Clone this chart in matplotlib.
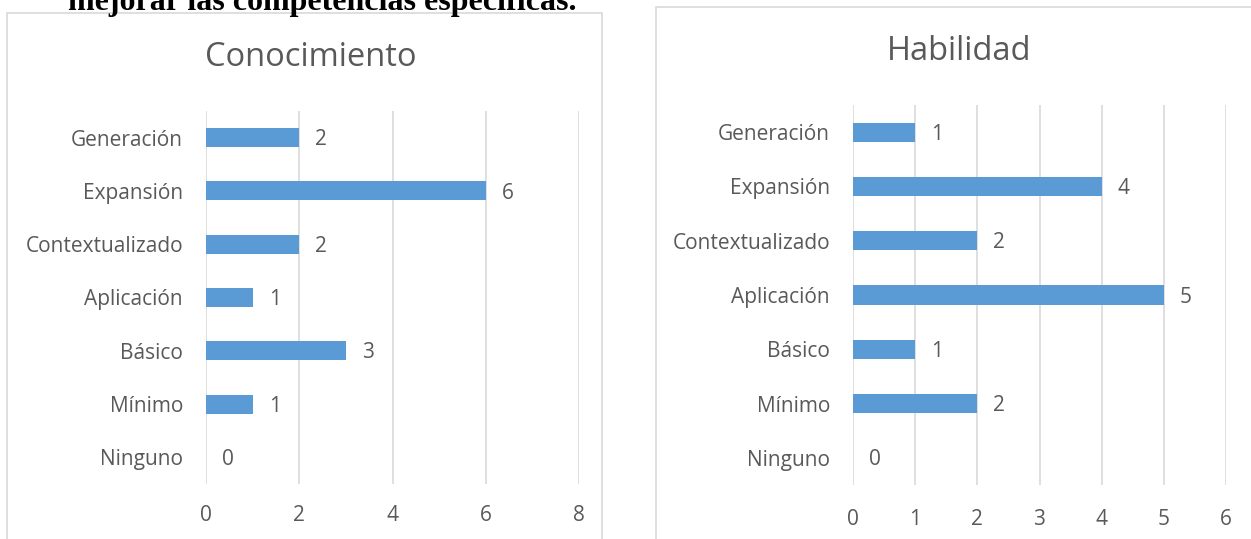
import matplotlib.pyplot as plt
from matplotlib.patches import Rectangle

categorias = ['Ninguno', 'Mínimo', 'Básico', 'Aplicación', 'Contextualizado', 'Expansión', 'Generación']
conocimiento = [0, 1, 3, 1, 2, 6, 2]
habilidad = [0, 2, 1, 5, 2, 4, 1]
ticks_con = [0, 2, 4, 6, 8]
ticks_hab = [0, 1, 2, 3, 4, 5, 6]

W, H = 1251, 539
azul = '#5B9BD5'
gris_txt = '#595959'
gris_lin = '#D9D9D9'
fuente = 'Open Sans'

fig = plt.figure(figsize=(W / 100, H / 100), dpi=100)


def fx(px):
    return px / W


def fy(py):
    return 1 - py / H


# cropped caption text on top (cut off as in the source page)
fig.text(fx(322), fy(10), 'mejorar las competencias específicas.', ha='center', va='baseline',
         fontsize=23, fontweight='bold', family='Liberation Serif', color='black')

# panel borders
fig.patches.append(Rectangle((fx(7), fy(560)), fx(602 - 7), fy(13) - fy(560),
                             transform=fig.transFigure, fill=False, ec=gris_lin, lw=1.2))
fig.patches.append(Rectangle((fx(656), fy(560)), fx(1300 - 656), fy(7) - fy(560),
                             transform=fig.transFigure, fill=False, ec=gris_lin, lw=1.2))


def panel(box, valores, ticks, titulo, titulo_xy, xpad):
    x0, x1, y0, y1 = box
    ax = fig.add_axes([fx(x0), fy(y1), fx(x1 - x0), fy(y0) - fy(y1)])
    pos = range(len(categorias))
    ax.barh(pos, valores, height=0.355, color=azul, zorder=3)
    ax.set_xlim(ticks[0], ticks[-1])
    ax.set_ylim(-0.5, len(categorias) - 0.5)
    ax.set_xticks(ticks)
    ax.set_yticks(list(pos))
    ax.set_yticklabels(categorias)
    ax.grid(axis='x', color=gris_lin, lw=1.2, zorder=0)
    ax.tick_params(axis='both', length=0, labelsize=15, labelcolor=gris_txt)
    ax.tick_params(axis='x', pad=xpad)
    ax.tick_params(axis='y', pad=16.5)
    for lab in ax.get_xticklabels() + ax.get_yticklabels():
        lab.set_family(fuente)
    for s in ax.spines.values():
        s.set_visible(False)
    for p, v in zip(pos, valores):
        ax.annotate(str(v), (v, p), xytext=(11.5, -1.5), textcoords='offset points',
                    va='center', ha='left', fontsize=15, color=gris_txt, family=fuente)
    fig.text(fx(titulo_xy[0]), fy(titulo_xy[1]), titulo, ha='center', va='center',
             fontsize=23.5, color=gris_txt, family=fuente)
    return ax


panel((206, 579, 111, 484), conocimiento, ticks_con, 'Conocimiento', (311, 58), 15)
panel((853, 1226, 105, 485), habilidad, ticks_hab, 'Habilidad', (959, 52), 17)

fig.savefig('out.png', dpi=100)
